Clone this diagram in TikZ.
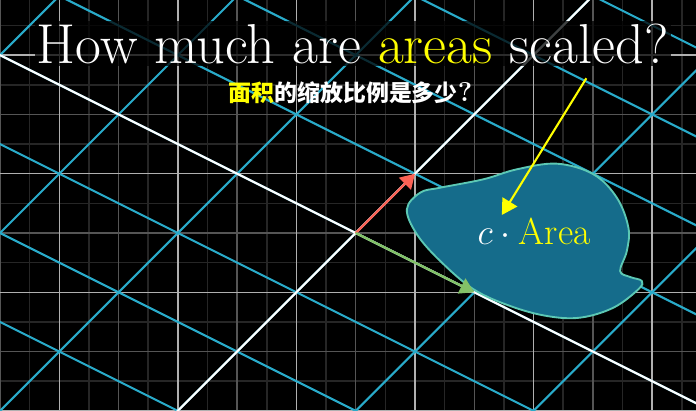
\documentclass[tikz,border=0pt]{standalone}
\usepackage{fontspec}
\newfontfamily\cjk{Noto Sans CJK SC}
\usepackage{xcolor}
\usetikzlibrary{arrows.meta}
\definecolor{planeblue}{HTML}{29ABCA}
\definecolor{gridhi}  {HTML}{B0B0B0}
\definecolor{gridmid} {HTML}{555555}
\definecolor{gridlo}  {HTML}{262626}
\definecolor{jcol}    {HTML}{FC6255}
\definecolor{icol}    {HTML}{83C167}
\definecolor{hilite}  {HTML}{FFFF00}
\definecolor{blobfill}{HTML}{156C8B}
\definecolor{blobedge}{HTML}{5CC8B4}

\begin{document}
\begin{tikzpicture}[
  bgline/.style={line width=0.7pt},
  plane/.style={draw=planeblue,line width=1pt},
  axis/.style={draw=white,line width=1pt},
  vec/.style={line width=1.1pt,-{Triangle[length=2.4mm,width=2.8mm]}},
  pointer/.style={draw=hilite,line width=1pt,-{Triangle[length=2.6mm,width=2.9mm]}},
  blob/.style={draw=blobedge,fill=blobfill,line width=0.9pt},
  title/.style={font=\fontsize{27}{32}\selectfont,color=white,
                fill=black,fill opacity=0.75,text opacity=1,inner sep=1pt},
  sub/.style={font=\cjk\bfseries\fontsize{11}{13}\selectfont,color=white}]

\useasboundingbox (-6,-2.99) rectangle (5.74,3.93);
\fill[black] (-6,-2.99) rectangle (5.74,3.93);
\clip (-6,-2.99) rectangle (5.74,3.93);

\foreach \t in {-5.5,-4.5,...,5.5}
  \draw[bgline,gridlo] (\t,-4) -- (\t,5) (-7,\t) -- (7,\t);
\foreach \t in {-6,-4,...,6}
  \draw[bgline,gridmid] (\t,-4) -- (\t,5) (-7,\t) -- (7,\t);
\foreach \t in {-5,-3,...,5}
  \draw[bgline,gridhi] (\t,-4) -- (\t,5) (-7,\t) -- (7,\t);

\foreach \k in {-5,...,5} {
  \draw[plane] ({\k-16},{\k+8}) -- ({\k+16},{\k-8});
  \draw[plane] ({2*\k-10},{-\k-10}) -- ({2*\k+10},{-\k+10});
}
\draw[axis] (-16,8) -- (16,-8);
\draw[axis] (-10,-10) -- (10,10);

\draw[blob] plot[smooth cycle,tension=0.6] coordinates {
  (0.863,0.400) (1.088,0.680) (1.425,0.764) (2.155,0.906) (2.718,1.074)
  (3.393,1.169) (4.010,0.990) (4.405,0.595) (4.600,0.089) (4.573,-0.304)
  (4.460,-0.641) (4.629,-0.742) (4.826,-0.809) (4.769,-0.949) (4.347,-1.260)
  (3.786,-1.428) (3.224,-1.400) (2.605,-1.231) (1.987,-0.949) (1.425,-0.472)
  (1.032,-0.022)};

\coordinate (O) at (0,0);
\coordinate (jhat) at (1,1);
\coordinate (ihat) at (2,-1);
\draw[vec,jcol] (O) -- (jhat);
\draw[vec,icol] (O) -- (ihat);

\node[anchor=base,white,font=\fontsize{18}{21}\selectfont] (carea) at (3.01,-0.2)
  {$c\cdot\textcolor{hilite}{\mathrm{Area}}$};

\node[title,anchor=base] (title) at (-0.05,2.867)
  {How much are \textcolor{hilite}{areas} scaled?};
\node[sub] (subtitle) at (-0.09,2.366)
  {\textcolor{hilite}{面积}的缩放比例是多少{\rmfamily\fontsize{13}{15}\selectfont ?}};

\coordinate (ptrstart) at (3.89,2.61);
\coordinate (ptrend) at (2.465,0.304);
\draw[pointer] (ptrstart) -- (ptrend);
\end{tikzpicture}
\end{document}
